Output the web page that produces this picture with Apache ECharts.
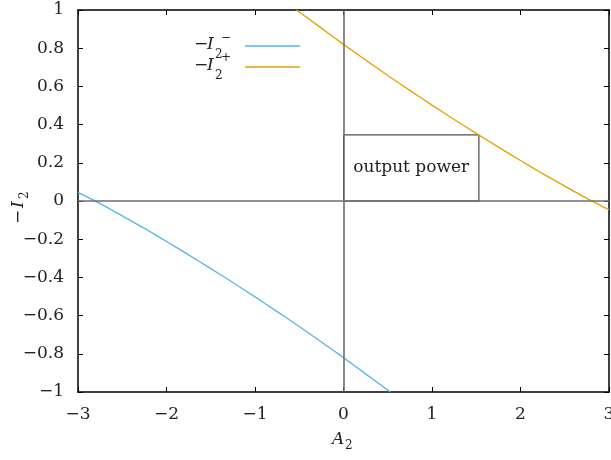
<!DOCTYPE html>
<html>
<head>
<meta charset="utf-8">
<script src="https://cdn.jsdelivr.net/npm/echarts@6/dist/echarts.min.js"></script>
<style>
  html, body { margin: 0; padding: 0; background: #fff; overflow: hidden; }
  #chart { width: 611px; height: 460px; }
</style>
</head>
<body>
<div id="chart"></div>
<script>
// Branch -I2+ (orange), sampled along A2
const A_PLUS = [-0.53, -0.25, 0, 0.25, 0.5, 0.75, 1.0, 1.25, 1.5, 1.75, 2.0, 2.25, 2.5, 2.75, 3.0];
const I_PLUS = [1.0, 0.905, 0.82, 0.738, 0.657, 0.579, 0.502, 0.427, 0.354, 0.282, 0.212, 0.143, 0.078, 0.014, -0.045];

// Branch -I2- (blue)
const A_MINUS = [-3.0, -2.75, -2.5, -2.25, -2.0, -1.75, -1.5, -1.25, -1.0, -0.75, -0.5, -0.25, 0, 0.25, 0.53];
const I_MINUS = [0.045, -0.014, -0.078, -0.143, -0.212, -0.282, -0.354, -0.427, -0.502, -0.579, -0.657, -0.738, -0.82, -0.905, -1.0];

// Operating point bounding the "output power" rectangle
const OP_A = 1.53;
const OP_I = 0.346;

// Axis ranges and ticks
const X_MIN = -3, X_MAX = 3, X_STEP = 1;
const Y_MIN = -1, Y_MAX = 1, Y_STEP = 0.2;

const SERIF = '"DejaVu Serif", "Liberation Serif", serif';
const INK = '#222';
const BLUE = '#56B4E9';
const ORANGE = '#E69F00';
const FS = 17;   // main text size
const FS_SUB = 12; // sub/superscript size

const zip = (xs, ys) => xs.map((x, i) => [x, ys[i]]);
const minus = v => String(v).replace('-', '\u2212');

const chart = echarts.init(document.getElementById('chart'), null, { renderer: 'canvas' });

const frameAxis = {
  axisLine: { show: true, onZero: false, lineStyle: { color: '#000', width: 1.5 } },
  axisTick: { show: true, inside: true, length: 5, lineStyle: { color: '#000', width: 1 } },
  splitLine: { show: false }
};

// small helper for a text piece centred vertically on y
const txt = (x, y, text, size, italic) => ({
  type: 'text', x: x, y: y,
  style: { text: text, font: (italic ? 'italic ' : '') + size + 'px ' + SERIF,
    fill: INK, verticalAlign: 'middle', align: 'left' }
});

chart.setOption({
  animation: false,
  backgroundColor: '#fff',
  grid: { left: 78, right: 2, top: 10, bottom: 68, containLabel: false, outerBoundsMode: 'none' },
  xAxis: [
    Object.assign({
      type: 'value', min: X_MIN, max: X_MAX, interval: X_STEP, position: 'bottom',
      axisLabel: { color: INK, fontFamily: SERIF, fontSize: FS, margin: 14, formatter: minus }
    }, frameAxis),
    Object.assign({
      type: 'value', min: X_MIN, max: X_MAX, interval: X_STEP, position: 'top',
      axisLabel: { show: false }
    }, frameAxis)
  ],
  yAxis: [
    Object.assign({
      type: 'value', min: Y_MIN, max: Y_MAX, interval: Y_STEP, position: 'left',
      axisLabel: { color: INK, fontFamily: SERIF, fontSize: FS, margin: 14,
        formatter: v => minus(Math.round(v * 10) / 10) }
    }, frameAxis),
    Object.assign({
      type: 'value', min: Y_MIN, max: Y_MAX, interval: Y_STEP, position: 'right',
      axisLabel: { show: false }
    }, frameAxis)
  ],
  series: [
    {
      // zero axes through the origin
      type: 'line', data: [], silent: true,
      markLine: {
        symbol: 'none', silent: true, label: { show: false },
        lineStyle: { color: '#6f6f6f', width: 1.6, type: 'solid' },
        data: [{ xAxis: 0 }, { yAxis: 0 }]
      }
    },
    {
      // output power rectangle
      type: 'line', data: [], silent: true,
      markArea: {
        silent: true,
        itemStyle: { color: 'rgba(0,0,0,0)', borderColor: '#222', borderWidth: 1 },
        label: { show: true, position: 'inside', formatter: 'output power',
          color: INK, fontFamily: SERIF, fontSize: FS },
        data: [[{ coord: [0, 0] }, { coord: [OP_A, OP_I] }]]
      }
    },
    {
      name: '-I2-', type: 'line', data: zip(A_MINUS, I_MINUS), smooth: 0.2,
      showSymbol: false, clip: true, lineStyle: { color: BLUE, width: 1.3 }
    },
    {
      name: '-I2+', type: 'line', data: zip(A_PLUS, I_PLUS), smooth: 0.2,
      showSymbol: false, clip: true, lineStyle: { color: ORANGE, width: 1.3 }
    }
  ],
  graphic: [
    // legend entry: -I2^-
    txt(194, 45, '\u2212', FS), txt(207, 45, 'I', FS, true),
    txt(215, 55, '2', FS_SUB), txt(221, 38, '\u2212', FS_SUB),
    { type: 'line', shape: { x1: 245, y1: 46, x2: 300, y2: 46 }, style: { stroke: BLUE, lineWidth: 1.3 } },
    // legend entry: -I2^+
    txt(194, 66, '\u2212', FS), txt(207, 66, 'I', FS, true),
    txt(215, 76, '2', FS_SUB), txt(221, 58, '+', FS_SUB),
    { type: 'line', shape: { x1: 245, y1: 67, x2: 300, y2: 67 }, style: { stroke: ORANGE, lineWidth: 1.3 } },
    // x axis name A_2
    txt(332, 440, 'A', FS, true), txt(345, 446, '2', FS_SUB),
    // y axis name -I_2 (rotated, reads bottom to top)
    {
      type: 'group', x: 19, y: 224, rotation: Math.PI / 2,
      children: [
        txt(0, 0, '\u2212', FS), txt(16, 0, 'I', FS, true), txt(25, 6, '2', FS_SUB)
      ]
    }
  ]
});
</script>
</body>
</html>
